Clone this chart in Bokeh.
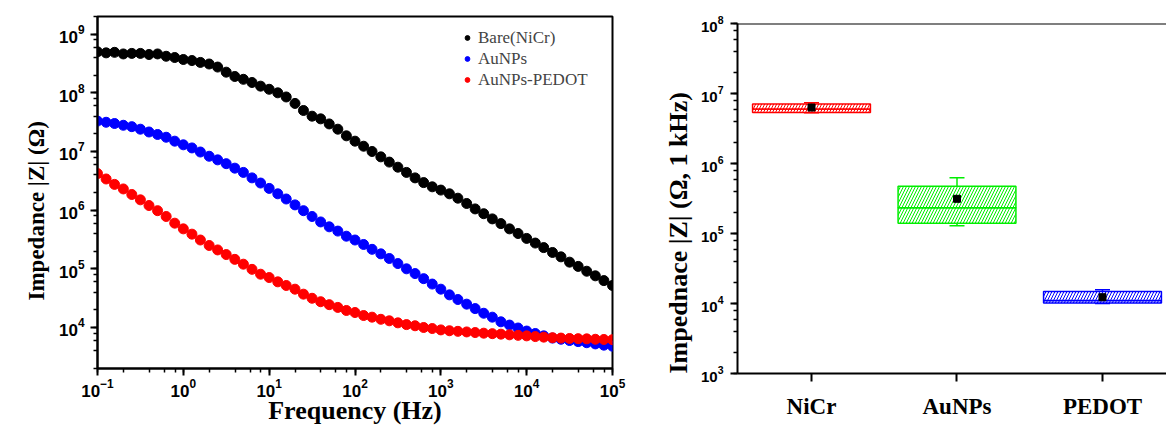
from bokeh.plotting import figure
from bokeh.layouts import row, column
from bokeh.models import (LogTicker, FixedTicker, Range1d, Legend, Title, Div,
                          Whisker, ColumnDataSource, Span, TeeHead)
from bokeh.embed import file_html
from bokeh.resources import INLINE

# ---------------- data: panel a ----------------
freq = [0.1, 0.126, 0.158, 0.2, 0.251, 0.316, 0.398, 0.501, 0.631, 0.794,
        1, 1.26, 1.58, 2.0, 2.51, 3.16, 3.98, 5.01, 6.31, 7.94,
        10, 12.6, 15.8, 20, 25.1, 31.6, 39.8, 50.1, 63.1, 79.4,
        100, 126, 158, 200, 251, 316, 398, 501, 631, 794,
        1000, 1260, 1580, 2000, 2510, 3160, 3980, 5010, 6310, 7940,
        10000, 12600, 15800, 20000, 25100, 31600, 39800, 50100, 63100, 79400,
        100000]

z_bare = [5.0e8, 4.8e8, 4.9e8, 4.6e8, 4.7e8, 4.7e8, 4.5e8, 4.6e8, 4.2e8, 4.0e8,
          3.7e8, 3.55e8, 3.3e8, 3.1e8, 2.75e8, 2.25e8, 1.9e8, 1.7e8, 1.5e8, 1.3e8,
          1.15e8, 1.0e8, 8.5e7, 6.6e7, 5.0e7, 4.0e7, 3.6e7, 2.95e7, 2.4e7, 1.85e7,
          1.5e7, 1.23e7, 1.0e7, 8.1e6, 6.6e6, 5.4e6, 4.4e6, 3.55e6, 2.95e6, 2.5e6,
          2.2e6, 1.9e6, 1.6e6, 1.3e6, 1.05e6, 8.7e5, 7.1e5, 5.9e5, 4.8e5, 4.0e5,
          3.3e5, 2.75e5, 2.3e5, 1.9e5, 1.6e5, 1.3e5, 1.1e5, 9.1e4, 7.6e4, 6.3e4,
          5.2e4]

z_aunps = [3.3e7, 3.15e7, 3.0e7, 2.8e7, 2.65e7, 2.4e7, 2.15e7, 1.95e7, 1.75e7, 1.5e7,
           1.3e7, 1.15e7, 9.8e6, 8.3e6, 7.2e6, 6.2e6, 5.2e6, 4.4e6, 3.55e6, 2.9e6,
           2.35e6, 1.9e6, 1.55e6, 1.23e6, 9.8e5, 7.8e5, 6.3e5, 5.2e5, 4.4e5, 3.6e5,
           3.1e5, 2.6e5, 2.15e5, 1.8e5, 1.5e5, 1.23e5, 1.0e5, 8.3e4, 6.8e4, 5.5e4,
           4.5e4, 3.6e4, 3.0e4, 2.5e4, 2.1e4, 1.75e4, 1.5e4, 1.25e4, 1.1e4, 9.8e3,
           8.7e3, 7.9e3, 7.2e3, 6.6e3, 6.3e3, 6.0e3, 5.75e3, 5.5e3, 5.25e3, 5.0e3,
           4.8e3]

z_pedot = [4.2e6, 3.4e6, 2.75e6, 2.3e6, 1.85e6, 1.5e6, 1.2e6, 9.8e5, 7.8e5, 6.0e5,
           4.8e5, 3.9e5, 3.1e5, 2.5e5, 2.1e5, 1.75e5, 1.45e5, 1.2e5, 9.8e4, 8.1e4,
           7.1e4, 6.0e4, 5.2e4, 4.5e4, 3.7e4, 3.15e4, 2.75e4, 2.45e4, 2.2e4, 1.95e4,
           1.8e4, 1.6e4, 1.5e4, 1.38e4, 1.3e4, 1.2e4, 1.12e4, 1.07e4, 1.0e4, 9.6e3,
           9.1e3, 8.8e3, 8.6e3, 8.4e3, 8.2e3, 8.0e3, 7.85e3, 7.7e3, 7.5e3, 7.35e3,
           7.2e3, 7.0e3, 6.85e3, 6.7e3, 6.6e3, 6.5e3, 6.45e3, 6.4e3, 6.3e3, 6.25e3,
           6.2e3]

series_names = ["Bare(NiCr)", "AuNPs", "AuNPs-PEDOT"]
series_colors = ["#000000", "#0000ff", "#ff0000"]

# ---------------- data: panel b ----------------
categories = ["NiCr", "AuNPs", "PEDOT"]
box_lower = [5.3e6, 1.29e5, 1.0e4]
box_q1 = [5.35e6, 1.4e5, 1.02e4]
box_median = [6.0e6, 2.33e5, 1.1e4]
box_q3 = [7.1e6, 4.75e5, 1.48e4]
box_upper = [7.4e6, 6.25e5, 1.57e4]
box_mean = [6.3e6, 3.13e5, 1.23e4]
box_colors = ["#ff0000", "#00ee00", "#0000ff"]

panel_tags = ["a)", "b)"]

SANS = "Liberation Sans"
SERIF = "Liberation Serif"


def style_axis(ax, tick_size, label_size):
    ax.axis_line_width = 2
    ax.axis_line_color = "black"
    ax.major_tick_line_width = 2
    ax.minor_tick_line_width = 1.5
    ax.major_tick_out = 7
    ax.major_tick_in = 0
    ax.minor_tick_out = 4
    ax.minor_tick_in = 0
    ax.major_label_text_font = SANS
    ax.major_label_text_font_style = "bold"
    ax.major_label_text_font_size = tick_size
    ax.major_label_text_color = "black"
    ax.axis_label_text_font = SERIF
    ax.axis_label_text_font_style = "bold"
    ax.axis_label_text_font_size = label_size
    ax.axis_label_text_color = "black"


def tag_div(text, left):
    html = ('<div style="position:absolute;left:%dpx;top:24px;'
            "font-family:'Liberation Sans',Arial,sans-serif;font-weight:bold;"
            'font-size:34px;line-height:34px;color:black;white-space:nowrap;">%s</div>'
            % (left, text))
    return Div(text=html, width=0, height=0, margin=0,
               styles={"overflow": "visible", "position": "relative"})


# ---------------- panel a ----------------
p1 = figure(width=640, height=429, x_axis_type="log", y_axis_type="log",
            x_range=Range1d(0.1, 1e5), y_range=Range1d(2e3, 2e9),
            output_backend="svg", toolbar_location=None,
            min_border_left=97, min_border_right=28, min_border_top=16,
            min_border_bottom=61)
p1.xgrid.visible = False
p1.ygrid.visible = False
p1.outline_line_color = "black"
p1.outline_line_width = 2
p1.outline_line_alpha = 1

p1.xaxis.ticker = LogTicker(desired_num_ticks=7)
p1.yaxis.ticker = LogTicker(desired_num_ticks=7)
style_axis(p1.xaxis[0], "17px", "26px")
style_axis(p1.yaxis[0], "17px", "23px")
p1.xaxis.axis_label = "Frequency (Hz)"
p1.xaxis.major_label_standoff = 3
p1.xaxis.axis_label_standoff = -4
p1.yaxis.major_label_standoff = 6

p1.add_layout(Title(text="Impedance |Z| (Ω)", align="left", offset=68, standoff=14,
                    text_font=SERIF, text_font_style="bold", text_font_size="23px",
                    text_color="black"), "left")

renderers = []
for zs, col in zip([z_bare, z_aunps, z_pedot], series_colors):
    r = p1.scatter(freq, zs, size=10, fill_color=col, line_color=col)
    renderers.append(r)

legend = Legend(items=[(n, [r]) for n, r in zip(series_names, renderers)],
                location=(364, 278), border_line_alpha=0, background_fill_alpha=0,
                label_text_font=SERIF, label_text_font_size="17px",
                glyph_width=12, glyph_height=21, label_height=21,
                label_standoff=5, spacing=0, padding=0, margin=0)
p1.add_layout(legend)

# ---------------- panel b ----------------
positions = [i + 1 for i in range(len(categories))]
box_width = 0.81

p2 = figure(width=526, height=429, y_axis_type="log",
            x_range=Range1d(0.4914, 3.4399), y_range=Range1d(1e3, 1e8),
            output_backend="svg", toolbar_location=None,
            min_border_left=97, min_border_right=0, min_border_top=23,
            min_border_bottom=56)
p2.xgrid.visible = False
p2.ygrid.visible = False
p2.outline_line_color = None

style_axis(p2.xaxis[0], "23px", "26px")
style_axis(p2.yaxis[0], "15px", "26px")
p2.xaxis.ticker = FixedTicker(ticks=positions, minor_ticks=[])
p2.xaxis.major_label_overrides = {pos: c for pos, c in zip(positions, categories)}
p2.xaxis.major_label_text_font = SERIF
p2.xaxis.major_tick_out = 8
p2.xaxis.major_label_standoff = 12
p2.yaxis.ticker = LogTicker(desired_num_ticks=6)
p2.yaxis.major_label_standoff = 7

p2.add_layout(Title(text="Impednace |Z| (Ω, 1 kHz)", align="left", offset=0,
                    standoff=10, text_font=SERIF, text_font_style="bold",
                    text_font_size="26px", text_color="black"), "left")

p2.add_layout(Span(location=1e8, dimension="width", line_color="black", line_width=2))

for pos, lo, q1, med, q3, up, col in zip(positions, box_lower, box_q1, box_median,
                                         box_q3, box_upper, box_colors):
    src = ColumnDataSource(dict(x=[pos], lower=[lo], upper=[up]))
    w = Whisker(base="x", lower="lower", upper="upper", source=src,
                line_color=col, line_width=1.5, level="underlay",
                upper_head=TeeHead(size=15, line_color=col, line_width=1.5),
                lower_head=TeeHead(size=15, line_color=col, line_width=1.5))
    p2.add_layout(w)

p2.vbar(x=positions, width=box_width, bottom=box_q1, top=box_median,
        fill_color="white", line_color=box_colors, line_width=1.5,
        hatch_pattern="/", hatch_color=box_colors, hatch_scale=6, hatch_weight=1)
p2.vbar(x=positions, width=box_width, bottom=box_median, top=box_q3,
        fill_color="white", line_color=box_colors, line_width=1.5,
        hatch_pattern="/", hatch_color=box_colors, hatch_scale=6, hatch_weight=1)
p2.scatter(positions, box_mean, marker="square", size=7, fill_color="black",
           line_color="black")

layout = row(tag_div(panel_tags[0], 12), column(p1),
             tag_div(panel_tags[1], 16), column(p2))
with open("out.html", "w") as f:
    f.write(file_html(layout, INLINE))
